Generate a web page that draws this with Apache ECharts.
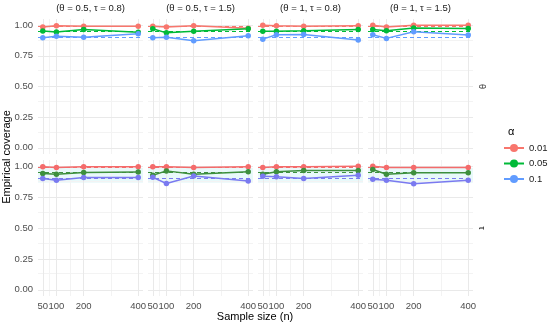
<!DOCTYPE html>
<html><head><meta charset="utf-8">
<script src="https://cdn.jsdelivr.net/npm/echarts@6/dist/echarts.min.js"></script>
<style>html,body{margin:0;padding:0;background:#fff}#c{width:550px;height:327px}</style>
</head><body><div id="c"></div>
<script>
// ---- data ----
const sampleSizes = [50, 100, 200, 400];
const panelTitles = ['(θ = 0.5, τ = 0.8)', '(θ = 0.5, τ = 1.5)', '(θ = 1, τ = 0.8)', '(θ = 1, τ = 1.5)'];
const rowLabels = ['θ', 'τ'];
const alphaLevels = ['0.01', '0.05', '0.1'];
const nominalLevels = [0.99, 0.95, 0.90];
const xBreaks = [50, 100, 200, 400];
const xMinorBreaks = [75, 150, 300];
const yBreaks = [0, 0.25, 0.5, 0.75, 1];
const yMinorBreaks = [0.125, 0.375, 0.625, 0.875];
// coverage for theta (top row), one array per panel
const thetaA001 = [[0.985, 0.995, 0.99, 0.99], [0.99, 0.985, 0.995, 0.975], [1.0, 0.995, 0.99, 0.995], [1.0, 0.985, 1.0, 1.0]];
const thetaA005 = [[0.952, 0.944, 0.965, 0.942], [0.97, 0.937, 0.95, 0.97], [0.951, 0.951, 0.954, 0.965], [0.965, 0.954, 0.976, 0.973]];
const thetaA010 = [[0.897, 0.91, 0.902, 0.93], [0.897, 0.902, 0.872, 0.913], [0.886, 0.921, 0.924, 0.878], [0.921, 0.892, 0.946, 0.92]];
// coverage for tau (bottom row)
const tauA001 = [[0.995, 0.99, 0.995, 0.995], [0.995, 0.995, 0.99, 0.995], [0.99, 0.995, 0.995, 1.0], [1.0, 0.99, 0.99, 0.99]];
const tauA005 = [[0.94, 0.935, 0.949, 0.952], [0.927, 0.962, 0.935, 0.954], [0.935, 0.955, 0.965, 0.965], [0.973, 0.935, 0.946, 0.946]];
const tauA010 = [[0.90, 0.887, 0.909, 0.909], [0.91, 0.86, 0.92, 0.88], [0.919, 0.914, 0.90, 0.927], [0.895, 0.887, 0.857, 0.887]];
const bandRange = [0.865, 0.985];

// ---- styling ----
const rowData = [[thetaA001, thetaA005, thetaA010], [tauA001, tauA005, tauA010]];
const rowColors = [['#F8766D', '#00BA38', '#619CFF'], ['#F46B6B', '#3D8F3D', '#7A7AF0']];
const FONT = 'Liberation Sans, Arial, sans-serif';
const colLeft = [38, 148, 258, 368], panelW = 105;
const rowTop = [19, 160], rowH = [135, 136];

const grids = [], xAxes = [], yAxes = [], series = [];
let gi = 0;
for (let r = 0; r < 2; r++) {
  for (let c = 0; c < 4; c++) {
    grids.push({left: colLeft[c], top: rowTop[r], width: panelW, height: rowH[r], containLabel: false});
    xAxes.push({
      type: 'value', gridIndex: gi, min: 32.5, max: 417.5,
      axisLine: {show: false}, axisTick: {show: false}, splitLine: {show: false},
      axisLabel: {show: r === 1, customValues: xBreaks, color: '#4d4d4d', fontSize: 9.5, fontFamily: FONT, margin: 5}
    });
    yAxes.push({
      type: 'value', gridIndex: gi, min: -0.05, max: 1.05,
      axisLine: {show: false}, axisTick: {show: false}, splitLine: {show: false},
      axisLabel: {show: c === 0, customValues: yBreaks, formatter: v => v.toFixed(2), color: '#4d4d4d', fontSize: 9.5, fontFamily: FONT, margin: 5}
    });
    const gl = [];
    xMinorBreaks.forEach(v => gl.push({xAxis: v, lineStyle: {color: '#f3f3f3', width: 1, type: 'solid'}}));
    yMinorBreaks.forEach(v => gl.push({yAxis: v, lineStyle: {color: '#f3f3f3', width: 1, type: 'solid'}}));
    xBreaks.forEach(v => gl.push({xAxis: v, lineStyle: {color: '#e9e9e9', width: 1, type: 'solid'}}));
    yBreaks.forEach(v => gl.push({yAxis: v, lineStyle: {color: '#e9e9e9', width: 1, type: 'solid'}}));
    const helper = {
      type: 'line', name: 'grid' + gi, xAxisIndex: gi, yAxisIndex: gi, data: [], z: 0, silent: true,
      markLine: {z: 0, silent: true, symbol: 'none', label: {show: false}, animation: false, data: gl}
    };
    if (r === 1) {
      helper.markArea = {z: 0, silent: true, itemStyle: {color: 'rgba(0,190,200,0.09)'}, data: [[{yAxis: bandRange[0]}, {yAxis: bandRange[1]}]]};
    }
    series.push(helper);
    for (let a = 0; a < 3; a++) {
      const col = rowColors[r][a];
      series.push({
        type: 'line', name: alphaLevels[a], xAxisIndex: gi, yAxisIndex: gi, z: 3,
        data: sampleSizes.map((n, k) => [n, rowData[r][a][c][k]]),
        symbol: 'circle', symbolSize: 5.5, showAllSymbol: true,
        lineStyle: {color: col, width: 1.5}, itemStyle: {color: col, borderColor: col, borderWidth: 0, opacity: 1},
        animation: false,
        markLine: {z: 2, silent: true, symbol: 'none', label: {show: false}, animation: false,
          lineStyle: {color: col, type: [4, 3], width: 1.2},
          data: [{yAxis: nominalLevels[a]}]}
      });
    }
    gi++;
  }
}

const graphics = [];
panelTitles.forEach((t, c) => graphics.push({type: 'text', x: colLeft[c] + panelW / 2, y: 8,
  style: {text: t, align: 'center', verticalAlign: 'middle', fill: '#1a1a1a', font: '9.5px ' + FONT}}));
rowLabels.forEach((t, r) => graphics.push({type: 'text', x: 481, y: rowTop[r] + rowH[r] / 2, rotation: -Math.PI / 2,
  style: {text: t, align: 'center', verticalAlign: 'middle', fill: '#1a1a1a', font: '9px ' + FONT}}));
graphics.push({type: 'text', x: 7, y: 157, rotation: Math.PI / 2,
  style: {text: 'Empirical coverage', align: 'center', verticalAlign: 'middle', fill: '#000', font: '11px ' + FONT}});
graphics.push({type: 'text', x: 255, y: 317,
  style: {text: 'Sample size (n)', align: 'center', verticalAlign: 'middle', fill: '#000', font: '11px ' + FONT}});
graphics.push({type: 'text', x: 508, y: 132,
  style: {text: 'α', align: 'left', verticalAlign: 'middle', fill: '#000', font: '11px ' + FONT}});

const chart = echarts.init(document.getElementById('c'), null, {renderer: 'canvas'});
chart.setOption({
  backgroundColor: '#fff',
  animation: false,
  grid: grids, xAxis: xAxes, yAxis: yAxes, series: series,
  legend: {data: alphaLevels, orient: 'vertical', left: 503, top: 143, padding: 0, itemWidth: 20, itemHeight: 10, itemGap: 5.5,
    textStyle: {fontSize: 9.5, color: '#1a1a1a', fontFamily: FONT}, selectedMode: false},
  graphic: graphics
});
</script></body></html>
